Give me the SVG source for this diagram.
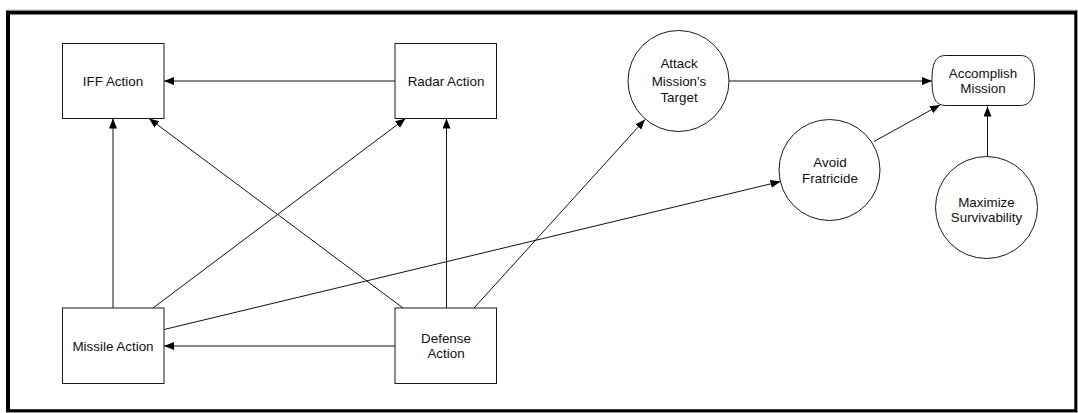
<svg xmlns="http://www.w3.org/2000/svg" width="1078" height="413" viewBox="0 0 1078 413">
  <style>
    .node { fill: #fff; stroke: #1a1a1a; stroke-width: 1; }
    .lbl { font-family: "Liberation Sans", Arial, sans-serif; font-size: 13.4px; fill: #111; text-anchor: middle; }
    .edge { stroke: #111; stroke-width: 1; fill: none; marker-end: url(#arrow); }
  </style>
  <defs>
    <marker id="arrow" markerUnits="userSpaceOnUse" markerWidth="11" markerHeight="9" refX="10" refY="4" orient="auto">
      <path d="M0,0 L10,4 L0,8 Z" fill="#000"/>
    </marker>
  </defs>

  <!-- page frame with heavy top/left edges -->
  <rect x="0" y="0" width="1078" height="413" fill="#fff"/>
  <line x1="6" y1="10.2" x2="1078" y2="10.2" stroke="#999" stroke-width="1"/>
  <line x1="1077.5" y1="10" x2="1077.5" y2="413" stroke="#999" stroke-width="1"/>
  <line x1="6" y1="412.5" x2="1078" y2="412.5" stroke="#999" stroke-width="1"/>
  <path d="M6,10.7 H1077 V412 H6 Z M10,14.5 V409.3 H1074.3 V14.5 Z" fill="#000" fill-rule="evenodd"/>

  <g id="connectors">
    <line class="edge" x1="395" y1="81" x2="164" y2="81"/>
    <line class="edge" x1="113" y1="308" x2="113" y2="118.5"/>
    <line class="edge" x1="403" y1="308" x2="149" y2="118.5"/>
    <line class="edge" x1="153" y1="308" x2="405.5" y2="118.5"/>
    <line class="edge" x1="446.5" y1="308" x2="446.5" y2="118.5"/>
    <line class="edge" x1="474" y1="308" x2="645" y2="119.5"/>
    <line class="edge" x1="164" y1="329.5" x2="780.5" y2="181.5"/>
    <line class="edge" x1="395" y1="346" x2="164" y2="346"/>
    <line class="edge" x1="729" y1="81" x2="932" y2="81"/>
    <line class="edge" x1="874" y1="141.5" x2="940" y2="105"/>
    <line class="edge" x1="987.5" y1="157" x2="987.5" y2="106.5"/>
  </g>

  <g id="iff-action">
    <rect class="node" x="62.5" y="43.5" width="101.5" height="75"/>
    <text class="lbl" x="113" y="85.5">IFF Action</text>
  </g>
  <g id="radar-action">
    <rect class="node" x="395" y="43.5" width="101.5" height="75"/>
    <text class="lbl" x="446" y="85.5">Radar Action</text>
  </g>
  <g id="missile-action">
    <rect class="node" x="62.5" y="308" width="101.5" height="75.5"/>
    <text class="lbl" x="113" y="350.5">Missile Action</text>
  </g>
  <g id="defense-action">
    <rect class="node" x="395" y="308" width="101.5" height="75.5"/>
    <text class="lbl" x="446" y="342.5">Defense</text>
    <text class="lbl" x="446" y="357.5">Action</text>
  </g>
  <g id="attack-target">
    <circle class="node" cx="678.5" cy="81" r="50.5"/>
    <text class="lbl" x="679" y="68">Attack</text>
    <text class="lbl" x="679" y="85.5">Mission's</text>
    <text class="lbl" x="679" y="102">Target</text>
  </g>
  <g id="avoid-fratricide">
    <circle class="node" cx="829.5" cy="170" r="50.5"/>
    <text class="lbl" x="830" y="166.5">Avoid</text>
    <text class="lbl" x="830" y="182.5">Fratricide</text>
  </g>
  <g id="maximize-survivability">
    <circle class="node" cx="986.5" cy="207.5" r="51"/>
    <text class="lbl" x="986.5" y="206.5">Maximize</text>
    <text class="lbl" x="986.5" y="221.5">Survivability</text>
  </g>
  <g id="accomplish-mission">
    <path class="node" d="M946,55.5 H1020 C1030,55.5 1034.5,62 1034.5,80.5 C1034.5,99 1030,105.5 1020,105.5 H946 C936,105.5 932,99 932,80.5 C932,62 936,55.5 946,55.5 Z"/>
    <text class="lbl" x="983" y="78">Accomplish</text>
    <text class="lbl" x="983" y="93">Mission</text>
  </g>
</svg>
